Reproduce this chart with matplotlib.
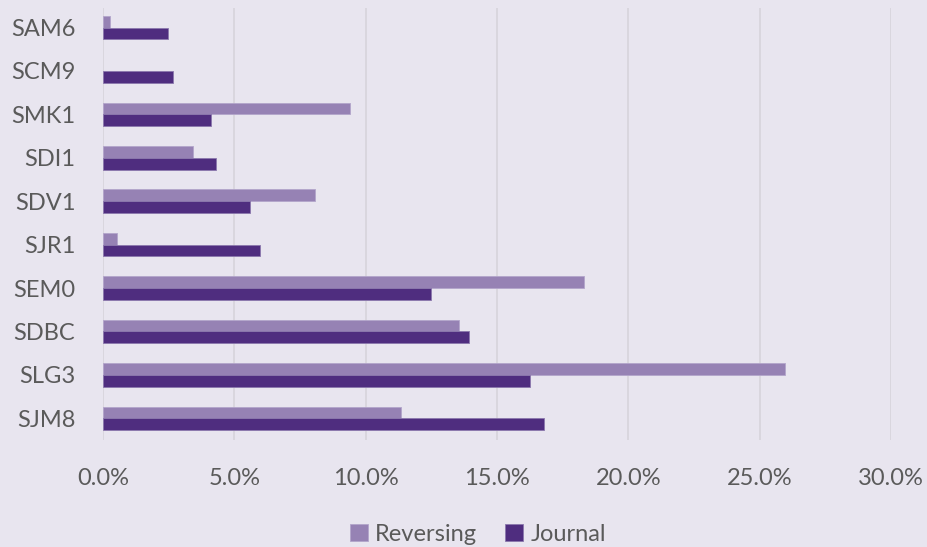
import numpy as np
import matplotlib.pyplot as plt
from matplotlib.ticker import PercentFormatter

# values (percent)
categories = ['SAM6', 'SCM9', 'SMK1', 'SDI1', 'SDV1', 'SJR1', 'SEM0', 'SDBC', 'SLG3', 'SJM8']
reversing = [0.27, 0.0, 9.4, 3.43, 8.07, 0.53, 18.33, 13.56, 25.95, 11.33]
journal = [2.47, 2.66, 4.11, 4.30, 5.60, 5.98, 12.48, 13.94, 16.24, 16.78]
xticks = [0, 5, 10, 15, 20, 25, 30]

bg = '#E8E5EF'
c_rev = '#9682B4'
c_jour = '#4F2D7F'
txt = '#5A5A5A'

plt.rcParams['font.family'] = ['Lato', 'DejaVu Sans']

fig = plt.figure(figsize=(9.28, 5.47), dpi=100, facecolor=bg)
ax = fig.add_axes([0.111, 0.1956, 0.849, 0.789], facecolor=bg)

y = np.arange(len(categories))
h = 0.27
rev_edges = ['#B3A5CB' if v > 0 else 'none' for v in reversing]
ax.barh(y - h / 2, reversing, height=h, color=c_rev, edgecolor=rev_edges,
        linewidth=0.6, label='Reversing', zorder=3)
ax.barh(y + h / 2, journal, height=h, color=c_jour, edgecolor='#8B78AD',
        linewidth=0.6, label='Journal', zorder=3)

ax.set_xlim(0, 30)
ax.set_ylim(len(categories) - 0.5, -0.44)
ax.set_yticks(y)
ax.set_yticklabels(categories, fontsize=17, color=txt)
ax.set_xticks(xticks)
ax.xaxis.set_major_formatter(PercentFormatter(decimals=1))
ax.tick_params(axis='x', labelsize=17, labelcolor=txt, length=0, pad=20)
ax.tick_params(axis='y', length=0, pad=20)
ax.grid(axis='x', color='#D6D3DB', linewidth=1.2, zorder=0)
for s in ax.spines.values():
    s.set_visible(False)

leg = fig.legend(loc='lower center', bbox_to_anchor=(0.515, -0.035), ncol=2,
                 frameon=False, fontsize=17, handlelength=0.75, handleheight=0.75,
                 handletextpad=0.3, columnspacing=1.2)
for t in leg.get_texts():
    t.set_color(txt)

fig.savefig('out.png', dpi=100, facecolor=bg)
